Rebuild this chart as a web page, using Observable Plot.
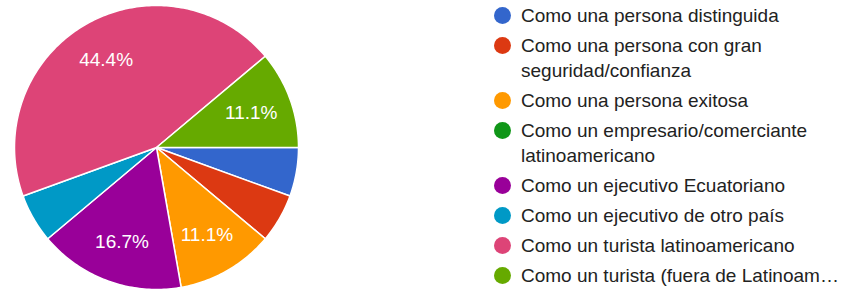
<!DOCTYPE html>
<html>
<head>
<meta charset="utf-8">
<script src="https://cdn.jsdelivr.net/npm/d3@7"></script>
<script src="https://cdn.jsdelivr.net/npm/@observablehq/plot@0.6"></script>
<style>
  html, body { margin: 0; padding: 0; background: #fff; }
  #wrap { position: relative; width: 843px; height: 290px; overflow: hidden; font-family: "Liberation Sans", Arial, sans-serif; }
  #chart { position: absolute; left: 0; top: 0; }
  #legend { position: absolute; left: 494px; top: 3px; width: 349px; }
  .item { display: flex; align-items: flex-start; margin-bottom: 5px; }
  .dot { flex: none; width: 17px; height: 17px; border-radius: 50%; margin-top: 4px; margin-right: 10px; }
  .lbl { font-size: 19px; line-height: 25px; color: #222; width: 322px; white-space: normal; }
</style>
</head>
<body>
<div id="wrap">
  <div id="chart"></div>
  <div id="legend"></div>
</div>
<script>
const categories = [
  "Como una persona distinguida",
  "Como una persona con gran seguridad/confianza",
  "Como una persona exitosa",
  "Como un empresario/comerciante latinoamericano",
  "Como un ejecutivo Ecuatoriano",
  "Como un ejecutivo de otro país",
  "Como un turista latinoamericano",
  "Como un turista (fuera de Latinoam…"
];
const counts = [1, 1, 2, 0, 3, 1, 8, 2];
const colors = ["#3366cc", "#dc3912", "#ff9900", "#109618", "#990099", "#0099c6", "#dd4477", "#66aa00"];

const total = d3.sum(counts);
const startDeg = 90; // slices start at 3 o'clock, going clockwise
const rad = Math.PI / 180;

// build slice polygons in unit-circle coordinates
const slicePts = [];
const labels = [];
let acc = 0;
counts.forEach((c, i) => {
  const a0 = startDeg + 360 * acc / total;
  acc += c;
  const a1 = startDeg + 360 * acc / total;
  if (c === 0) return;
  const cat = categories[i];
  slicePts.push({cat, x: 0, y: 0});
  const steps = Math.max(2, Math.ceil(a1 - a0));
  for (let k = 0; k <= steps; k++) {
    const a = (a0 + (a1 - a0) * k / steps) * rad;
    slicePts.push({cat, x: Math.sin(a), y: Math.cos(a)});
  }
  slicePts.push({cat, x: 0, y: 0});
  const pct = c / total * 100;
  if (pct > 8) {
    const am = ((a0 + a1) / 2) * rad;
    labels.push({cat, x: 0.71 * Math.sin(am), y: 0.71 * Math.cos(am), text: pct.toFixed(1) + "%"});
  }
});

const cx = 156, cy = 147, r = 142;
const plot = Plot.plot({
  width: 843,
  height: 290,
  margin: 0,
  x: {domain: [-1, 1], range: [cx - r, cx + r], axis: null},
  y: {domain: [-1, 1], range: [cy + r, cy - r], axis: null},
  color: {domain: categories, range: colors},
  style: {fontFamily: "'Liberation Sans', Arial, sans-serif", background: "transparent"},
  marks: [
    Plot.line(slicePts, {x: "x", y: "y", z: "cat", fill: "cat", stroke: "white", strokeWidth: 1.5, strokeLinejoin: "round", curve: "linear"}),
    Plot.text(labels, {x: "x", y: "y", text: "text", fill: "white", fontSize: 19, textAnchor: "middle"})
  ]
});
document.getElementById("chart").appendChild(plot);

const legend = document.getElementById("legend");
categories.forEach((cat, i) => {
  const item = document.createElement("div");
  item.className = "item";
  const dot = document.createElement("div");
  dot.className = "dot";
  dot.style.background = colors[i];
  const lbl = document.createElement("div");
  lbl.className = "lbl";
  lbl.textContent = cat;
  item.appendChild(dot);
  item.appendChild(lbl);
  legend.appendChild(item);
});
</script>
</body>
</html>
